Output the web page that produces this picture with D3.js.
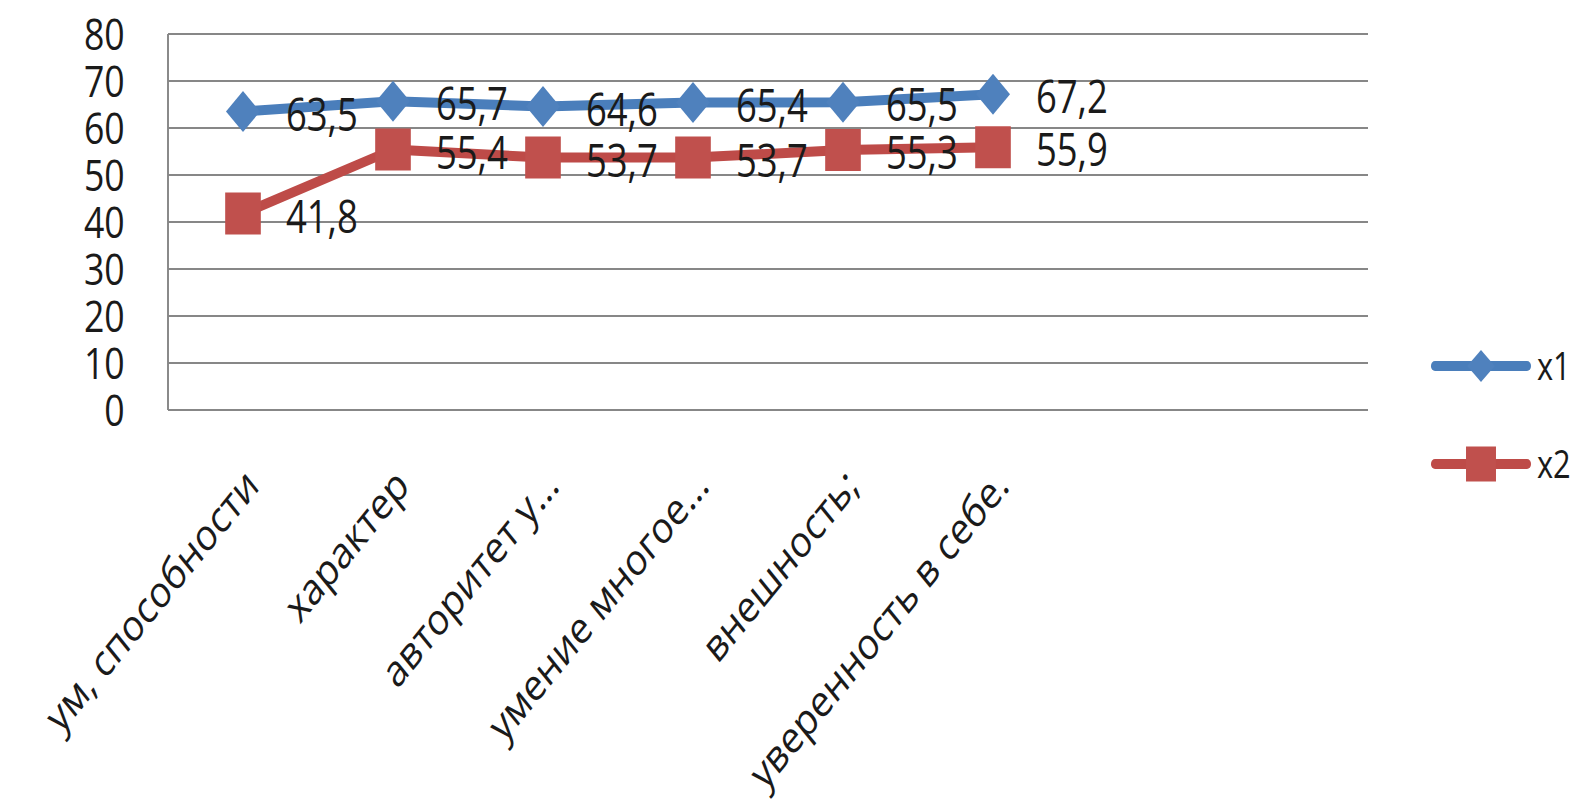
<!DOCTYPE html>
<html>
<head>
<meta charset="utf-8">
<script src="https://cdn.jsdelivr.net/npm/d3@7"></script>
<style>
  html, body { margin: 0; padding: 0; background: #ffffff; }
  svg { display: block; }
  text { font-family: "Open Sans", "Noto Sans", "Liberation Sans", sans-serif; fill: #1a1a1a; }
</style>
</head>
<body>
<svg id="chart" width="1580" height="810"></svg>
<script>
// ---- data ----
const categories = ["ум, способности", "характер", "авторитет у...", "умение многое...", "внешность;", "уверенность в себе.", "", ""];
const seriesNames = ["x1", "x2"];
const x1Values = [63.5, 65.7, 64.6, 65.4, 65.5, 67.2];
const x2Values = [41.8, 55.4, 53.7, 53.7, 55.3, 55.9];
const yTicks = [0, 10, 20, 30, 40, 50, 60, 70, 80];

// ---- layout (drawn in an unsqueezed frame, then squeezed horizontally) ----
const SX = 0.81;
const W = 1580, H = 810;
const plot = { left: 168 / SX, right: 1368 / SX, top: 34, bottom: 410 };
const colors = { x1: { line: "#4A7EBB", fill: "#4F81BD" }, x2: { line: "#BE4B48", fill: "#C0504D" } };

const svg = d3.select("#chart");
svg.append("rect").attr("width", W).attr("height", H).attr("fill", "#ffffff");
const g = svg.append("g").attr("transform", `scale(${SX},1)`);

const x = d3.scaleBand().domain(d3.range(categories.length)).range([plot.left, plot.right]);
const y = d3.scaleLinear().domain([0, 80]).range([plot.bottom, plot.top]);
const cx = i => x(i) + x.bandwidth() / 2;

// gridlines
g.append("g").selectAll("line").data(yTicks).join("line")
  .attr("x1", plot.left).attr("x2", plot.right)
  .attr("y1", d => y(d)).attr("y2", d => y(d))
  .attr("stroke", "#878787").attr("stroke-width", 2);

// left axis line
g.append("line").attr("x1", plot.left).attr("x2", plot.left)
  .attr("y1", plot.top).attr("y2", plot.bottom)
  .attr("stroke", "#878787").attr("stroke-width", 2.4);

// y tick labels
g.append("g").selectAll("text").data(yTicks).join("text")
  .attr("x", 154).attr("y", d => y(d))
  .attr("dy", "0.36em")
  .attr("text-anchor", "end")
  .attr("font-size", 44)
  .text(d => d);

// x category labels
g.append("g").selectAll("text").data(categories).join("text")
  .attr("transform", (d, i) => `translate(${cx(i) + 22},488) rotate(-45)`)
  .attr("text-anchor", "end")
  .attr("font-size", 44)
  .text(d => d);

// series
const series = [
  { name: "x1", values: x1Values, shape: "diamond" },
  { name: "x2", values: x2Values, shape: "square" }
];

function markerPath(shape, w, h) {
  if (shape === "diamond") return `M0,${-h/2}L${w/2},0L0,${h/2}L${-w/2},0Z`;
  return `M${-w/2},${-h/2}H${w/2}V${h/2}H${-w/2}Z`;
}

const line = d3.line().x((d, i) => cx(i)).y(d => y(d));

series.forEach(s => {
  g.append("path").datum(s.values)
    .attr("d", line)
    .attr("fill", "none")
    .attr("stroke", colors[s.name].line)
    .attr("stroke-width", 10)
    .attr("stroke-linejoin", "round");
});

series.forEach(s => {
  const [mw, mh] = s.shape === "diamond" ? [42, 41] : [44, 42];
  g.append("g").selectAll("path").data(s.values).join("path")
    .attr("transform", (d, i) => `translate(${cx(i)},${y(d)})`)
    .attr("d", markerPath(s.shape, mw, mh))
    .attr("fill", colors[s.name].fill);
});

// data labels
series.forEach(s => {
  g.append("g").selectAll("text").data(s.values).join("text")
    .attr("x", (d, i) => cx(i) + 53)
    .attr("y", d => y(d) + 3)
    .attr("dy", "0.36em")
    .attr("font-size", 45)
    .text(d => d.toFixed(1).replace(".", ","));
});

// legend
const legendRows = [366, 464];
const lg = g.append("g");
series.forEach((s, k) => {
  const ly = legendRows[k];
  lg.append("line")
    .attr("x1", 1435 / SX).attr("x2", 1527 / SX)
    .attr("y1", ly).attr("y2", ly)
    .attr("stroke", colors[s.name].line).attr("stroke-width", 10).attr("stroke-linecap", "round");
  const [mw, mh] = s.shape === "diamond" ? [34, 32] : [37, 35];
  lg.append("path")
    .attr("transform", `translate(${1481 / SX},${ly})`)
    .attr("d", markerPath(s.shape, mw, mh))
    .attr("fill", colors[s.name].fill);
  lg.append("text")
    .attr("x", 1537 / SX).attr("y", ly)
    .attr("dy", "0.36em")
    .attr("font-size", 38)
    .text(s.name);
});
</script>
</body>
</html>
